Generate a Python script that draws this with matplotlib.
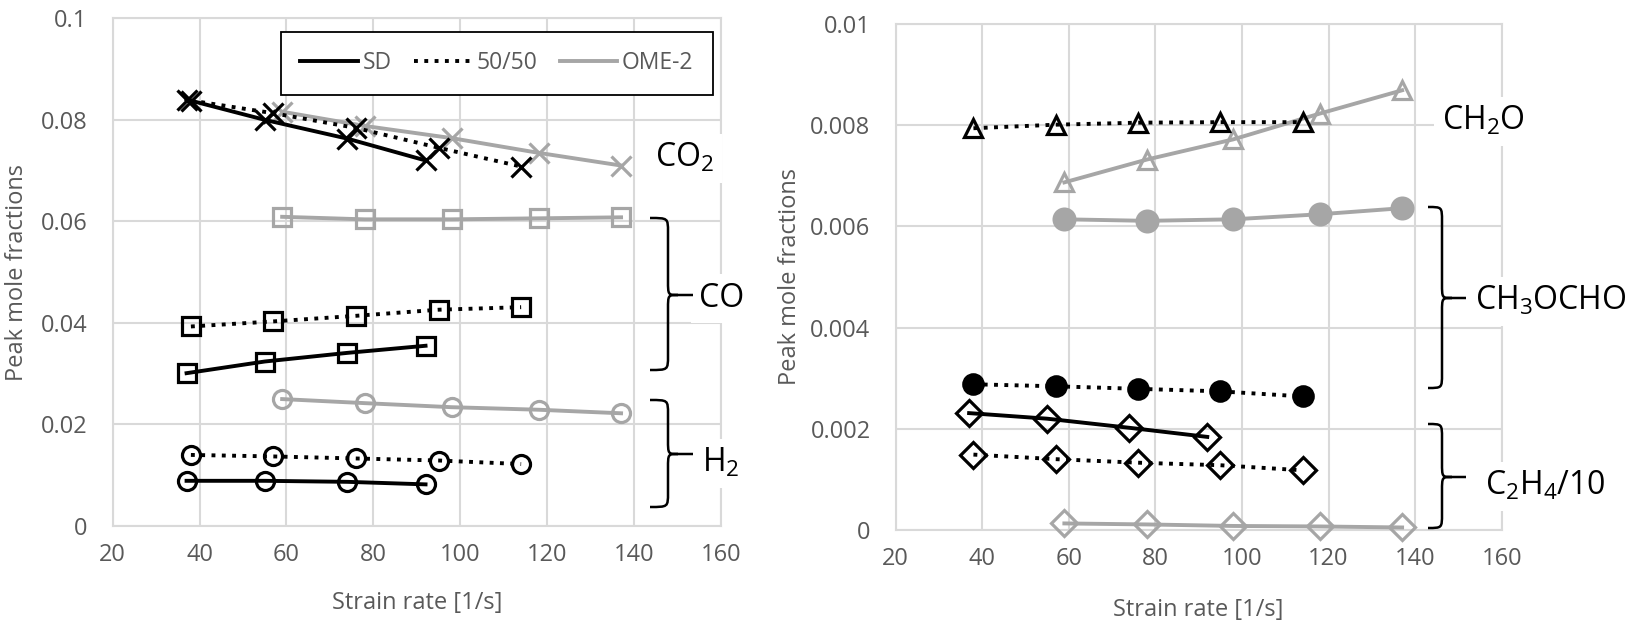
import matplotlib
matplotlib.use("Agg")
import matplotlib.pyplot as plt
from matplotlib.lines import Line2D
from matplotlib.path import Path
from matplotlib.patches import PathPatch

plt.rcParams['font.family'] = ['Open Sans', 'DejaVu Sans']
plt.rcParams['mathtext.fontset'] = 'custom'
plt.rcParams['mathtext.rm'] = 'Open Sans'
plt.rcParams['mathtext.default'] = 'regular'

# ---------------- data ----------------
x_sd = [37, 55, 74, 92]
x_5050 = [38, 57, 76, 95, 114]
x_ome = [59, 78, 98, 118, 137]

# left panel
co2_sd = [0.0840, 0.0800, 0.0763, 0.0720]
co2_5050 = [0.0838, 0.0813, 0.0784, 0.0745, 0.0708]
co2_ome = [0.0816, 0.0788, 0.0764, 0.0735, 0.0710]
co_sd = [0.0301, 0.0324, 0.0341, 0.0355]
co_5050 = [0.0393, 0.0403, 0.0414, 0.0426, 0.0431]
co_ome = [0.0609, 0.0604, 0.0604, 0.0606, 0.0608]
h2_sd = [0.0089, 0.0089, 0.0087, 0.0082]
h2_5050 = [0.0140, 0.0137, 0.0133, 0.0129, 0.0122]
h2_ome = [0.0250, 0.0242, 0.0234, 0.0229, 0.0222]

# right panel
ch2o_5050 = [0.00794, 0.00801, 0.00805, 0.00806, 0.00806]
ch2o_ome = [0.00687, 0.00732, 0.00772, 0.00823, 0.00869]
ch3ocho_5050 = [0.00288, 0.00284, 0.00279, 0.00274, 0.00264]
ch3ocho_ome = [0.00614, 0.00611, 0.00614, 0.00624, 0.00636]
c2h4_sd = [0.00231, 0.00220, 0.00202, 0.00184]
c2h4_5050 = [0.00149, 0.00140, 0.00133, 0.00128, 0.00118]
c2h4_ome = [0.00013, 0.00011, 0.00008, 0.00007, 0.00005]

x_ticks = [20, 40, 60, 80, 100, 120, 140, 160]
yL_ticks = [0, 0.02, 0.04, 0.06, 0.08, 0.1]
yL_labels = ['0', '0.02', '0.04', '0.06', '0.08', '0.1']
yR_ticks = [0, 0.002, 0.004, 0.006, 0.008, 0.01]
yR_labels = ['0', '0.002', '0.004', '0.006', '0.008', '0.01']
legend_labels = ['SD', '50/50', 'OME-2']

# ---------------- styles ----------------
BLACK = '#000000'
GRAY = '#A6A6A6'
TXT = '#595959'
GRID = '#D9D9D9'
LW = 2.8
MEW = 2.3
sty_sd = dict(color=BLACK, lw=LW, ls='-')
sty_5050 = dict(color=BLACK, lw=LW, ls=':')
sty_ome = dict(color=GRAY, lw=LW, ls='-')

W, H = 1637, 629
fig = plt.figure(figsize=(W / 100, H / 100), dpi=100)


def px_axes(l, r, t, b):
    return [l / W, 1 - b / H, (r - l) / W, (b - t) / H]


axL = fig.add_axes(px_axes(112.7, 721, 18.3, 526))
axR = fig.add_axes(px_axes(895.5, 1501.7, 24, 530))


def style_axes(ax, yt, ylab, ylim):
    ax.set_xlim(20, 160)
    ax.set_ylim(*ylim)
    ax.set_xticks(x_ticks)
    ax.set_xticklabels([str(v) for v in x_ticks])
    ax.set_yticks(yt)
    ax.set_yticklabels(ylab)
    ax.grid(True, color=GRID, lw=1.5, zorder=0)
    ax.set_axisbelow(True)
    for s in ax.spines.values():
        s.set_color(GRID)
        s.set_linewidth(1.5)
    ax.tick_params(axis='both', length=0, labelsize=17, labelcolor=TXT)
    ax.tick_params(axis='y', pad=18)
    ax.tick_params(axis='x', pad=12)


style_axes(axL, yL_ticks, yL_labels, (0, 0.1))
style_axes(axR, yR_ticks, yR_labels, (0, 0.01))


def series(ax, x, y, sty, marker, ms, filled=False):
    c = sty['color']
    ax.plot(x, y, color=c, lw=sty['lw'], ls=sty['ls'], marker=marker, ms=ms,
            mew=MEW, mec=c, mfc=(c if filled else 'none'), zorder=3,
            clip_on=False)


# left panel
series(axL, x_ome, co2_ome, sty_ome, 'x', 15)
series(axL, x_5050, co2_5050, sty_5050, 'x', 15)
series(axL, x_sd, co2_sd, sty_sd, 'x', 15)
series(axL, x_ome, co_ome, sty_ome, 's', 13)
series(axL, x_5050, co_5050, sty_5050, 's', 13)
series(axL, x_sd, co_sd, sty_sd, 's', 13)
series(axL, x_ome, h2_ome, sty_ome, 'o', 13)
series(axL, x_5050, h2_5050, sty_5050, 'o', 13)
series(axL, x_sd, h2_sd, sty_sd, 'o', 13)

# right panel
series(axR, x_ome, ch2o_ome, sty_ome, '^', 13)
series(axR, x_5050, ch2o_5050, sty_5050, '^', 13)
series(axR, x_ome, ch3ocho_ome, sty_ome, 'o', 15, filled=True)
series(axR, x_5050, ch3ocho_5050, sty_5050, 'o', 14, filled=True)
series(axR, x_ome, c2h4_ome, sty_ome, 'D', 13)
series(axR, x_5050, c2h4_5050, sty_5050, 'D', 13)
series(axR, x_sd, c2h4_sd, sty_sd, 'D', 13)

# axis labels
for ax, xc, yb, yl_x in ((axL, 417, 603, 17), (axR, 1198.6, 610, 790)):
    pos = ax.get_position()
    fig.text(xc / W, 1 - yb / H, 'Strain rate [1/s]', ha='center', va='center',
             fontsize=17, color=TXT)
    fig.text(yl_x / W, (pos.y0 + pos.y1) / 2, 'Peak mole fractions', ha='center',
             va='center', rotation=90, fontsize=17, color=TXT)

# legend
handles = [Line2D([], [], **sty_sd), Line2D([], [], **sty_5050), Line2D([], [], **sty_ome)]
leg = axL.legend(handles, legend_labels, loc='upper left',
                 bbox_to_anchor=(281 / W, 1 - 32 / H), bbox_transform=fig.transFigure,
                 ncol=3, fontsize=16.5, frameon=True, fancybox=False,
                 edgecolor=BLACK, framealpha=1, handlelength=2.5,
                 handletextpad=0.2, columnspacing=1.0, borderpad=0.85,
                 borderaxespad=0)
for t in leg.get_texts():
    t.set_color(TXT)
leg.get_frame().set_linewidth(1.3)
leg.set_zorder(10)


def brace(xl, xv, xtip, yt, yb, ym):
    r = 14
    verts = [
        (xl, yt), (xv, yt), (xv, yt), (xv, yt + r),
        (xv, ym - r),
        (xv, ym), (xv, ym), (xv + 10, ym),
        (xtip, ym),
        (xv + 10, ym), (xv, ym), (xv, ym), (xv, ym + r),
        (xv, yb - r),
        (xv, yb), (xv, yb), (xl, yb),
    ]
    codes = [Path.MOVETO, Path.CURVE4, Path.CURVE4, Path.CURVE4,
             Path.LINETO,
             Path.CURVE4, Path.CURVE4, Path.CURVE4,
             Path.LINETO,
             Path.MOVETO, Path.CURVE4, Path.CURVE4, Path.CURVE4,
             Path.LINETO,
             Path.CURVE4, Path.CURVE4, Path.CURVE4]
    verts = [(x / W, 1 - y / H) for x, y in verts]
    patch = PathPatch(Path(verts, codes), transform=fig.transFigure, fill=False,
                      edgecolor=BLACK, lw=1.8, zorder=20)
    fig.add_artist(patch)


def label(x, y_base, s):
    fig.text(x / W, 1 - y_base / H, s, ha='left', va='baseline', fontsize=23,
             color=BLACK, zorder=15,
             bbox=dict(boxstyle='square,pad=0.25', fc='white', ec='none'))


label(655, 167, 'CO$_2$')
brace(650, 668, 693, 218, 370, 295)
label(699, 307, 'CO')
brace(650, 668, 693, 400, 507, 454)
label(702, 472, 'H$_2$')

label(1442, 130, 'CH$_2$O')
brace(1428, 1442, 1466, 207, 388, 298)
label(1475, 310, 'CH$_3$OCHO')
brace(1428, 1442, 1466, 424, 528, 477)
label(1485, 495, 'C$_2$H$_4$/10')

fig.savefig('out.png', dpi=100)
